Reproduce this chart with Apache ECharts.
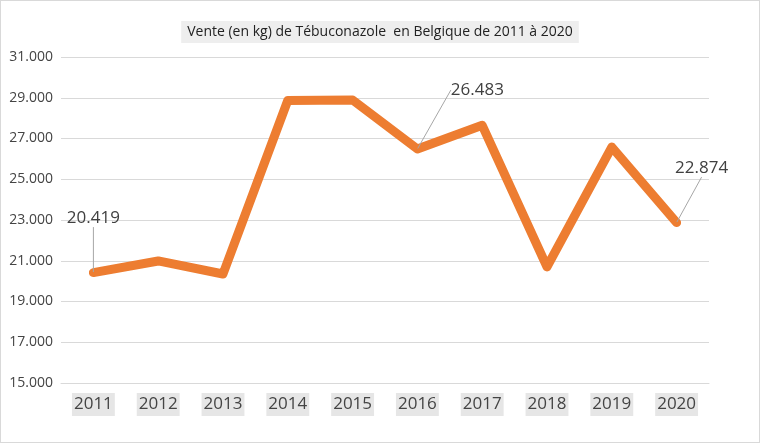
<!DOCTYPE html>
<html lang="fr">
<head>
    <meta charset="utf-8">
    <title>Tébuconazole</title>
    <script src="https://cdn.jsdelivr.net/npm/echarts@6/dist/echarts.min.js"></script>
</head>
<body style="margin:0">
    <div id="main" style="width: 758px;height:441px;border:1px solid #d9d9d9;"></div>
    <script>
    var years = ['2011', '2012', '2013', '2014', '2015', '2016', '2017', '2018', '2019', '2020'];
    var ventes = [20419, 20990, 20350, 28870, 28890, 26483, 27650, 20700, 26580, 22874];
    var labelled = {0: [0, -40], 5: [60, -45], 9: [25, -40]};

    function fmt(v) {
        return String(v).replace(/\B(?=(\d{3})+(?!\d))/g, '.');
    }

    var myChart = echarts.init(document.getElementById('main'));
    var option = {
        animation: false,
        title: {
            text: 'Vente (en kg) de Tébuconazole  en Belgique de 2011 à 2020',
            left: 'center',
            top: 20,
            backgroundColor: '#eeeeee',
            padding: [4, 6],
            textStyle: { fontSize: 14, fontWeight: 'normal', color: '#222', fontFamily: 'Open Sans' }
        },
        grid: { left: 60, right: 50, top: 56, bottom: 59 },
        xAxis: {
            type: 'category',
            data: years,
            boundaryGap: true,
            axisLine: { lineStyle: { color: '#d9d9d9' } },
            axisTick: { show: false },
            axisLabel: {
                fontSize: 17, color: '#444', backgroundColor: '#e6e6e6',
                padding: [3, 2], margin: 10, fontFamily: 'Open Sans'
            }
        },
        yAxis: {
            type: 'value',
            min: 15000, max: 31000, interval: 2000,
            axisLine: { show: false },
            axisTick: { show: false },
            splitLine: { lineStyle: { color: '#d9d9d9' } },
            axisLabel: { formatter: fmt, fontSize: 14, color: '#444', fontFamily: 'Open Sans' }
        },
        series: [{
            type: 'line',
            data: ventes.map(function (v, i) {
                var d = { value: v };
                if (labelled[i]) {
                    d.label = { show: true };
                }
                return d;
            }),
            symbol: 'circle',
            symbolSize: 1,
            showSymbol: true,
            itemStyle: { color: '#ed7d31' },
            lineStyle: { color: '#ed7d31', width: 9, join: 'round', cap: 'round' },
            label: {
                show: false, position: 'top',
                formatter: function (p) { return fmt(p.value); },
                fontSize: 17, color: '#404040', fontFamily: 'Open Sans'
            },
            labelLine: { show: true, lineStyle: { color: '#a6a6a6', width: 1 } },
            labelLayout: function (p) {
                var o = labelled[p.dataIndex];
                if (!o) return {};
                return { dx: o[0], dy: o[1] };
            }
        }]
    };
    myChart.setOption(option);
    </script>
</body>
</html>
